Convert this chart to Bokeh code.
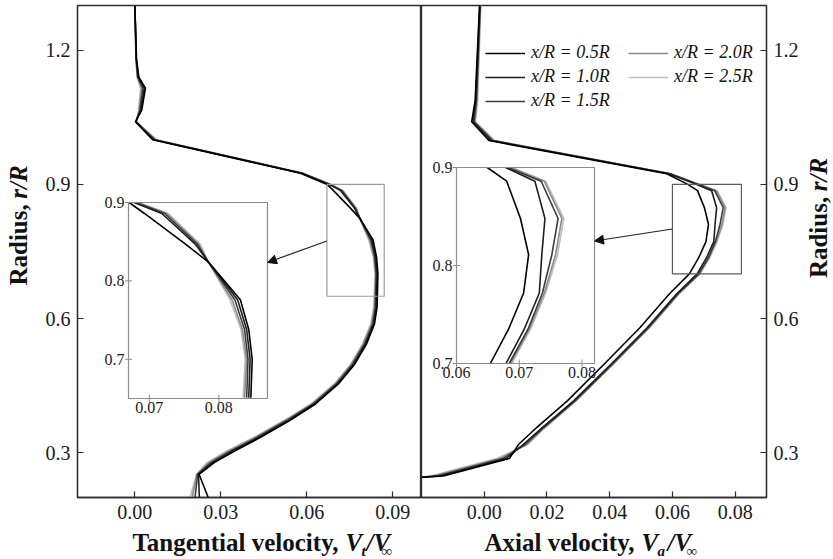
import numpy as np
from bokeh.plotting import figure
from bokeh.layouts import row, column
from bokeh.models import (Range1d, FixedTicker, NumeralTickFormatter,
                          Legend, LegendItem, Arrow, NormalHead)
from bokeh.core.properties import value
from bokeh.embed import file_html
from bokeh.resources import INLINE

# ---------------------------------------------------------------- data
stations = ["x/R = 0.5R", "x/R = 1.0R", "x/R = 1.5R", "x/R = 2.0R", "x/R = 2.5R"]

# tangential velocity Vt/Vinf against radius r/R
r_tan = [1.30, 1.18, 1.14, 1.115, 1.066, 1.04, 1.00, 0.925, 0.90, 0.886,
         0.847, 0.824, 0.776, 0.738, 0.70, 0.651, 0.625, 0.588, 0.543, 0.498,
         0.454, 0.409, 0.372, 0.334, 0.304, 0.278, 0.252, 0.20]
vt_05 = [0.0000, 0.0006, 0.0014, 0.0037, 0.0024, 0.0002, 0.0062, 0.0578, 0.0671, 0.0693,
         0.0752, 0.0785, 0.0831, 0.0843, 0.0848, 0.0846, 0.0845, 0.0836, 0.0808, 0.0767,
         0.0710, 0.0630, 0.0540, 0.0437, 0.0348, 0.0277, 0.0224, 0.0256]
vt_10 = [0.0000, 0.0005, 0.0012, 0.0033, 0.0021, 0.0003, 0.0066, 0.0581, 0.0678, 0.0718,
         0.0766, 0.0785, 0.0827, 0.0840, 0.0845, 0.0843, 0.0842, 0.0833, 0.0805, 0.0764,
         0.0707, 0.0627, 0.0535, 0.0432, 0.0342, 0.0271, 0.0222, 0.0225]
vt_15 = [0.0000, 0.0005, 0.0010, 0.0028, 0.0018, 0.0004, 0.0069, 0.0584, 0.0681, 0.0722,
         0.0769, 0.0785, 0.0823, 0.0837, 0.0842, 0.0840, 0.0839, 0.0830, 0.0801, 0.0760,
         0.0703, 0.0622, 0.0530, 0.0426, 0.0335, 0.0265, 0.0219, 0.0210]
vt_20 = [0.0000, 0.0004, 0.0009, 0.0024, 0.0015, 0.0005, 0.0072, 0.0586, 0.0683, 0.0725,
         0.0771, 0.0785, 0.0819, 0.0834, 0.0840, 0.0837, 0.0836, 0.0826, 0.0797, 0.0756,
         0.0699, 0.0618, 0.0525, 0.0420, 0.0328, 0.0258, 0.0217, 0.0200]
vt_25 = [0.0000, 0.0004, 0.0008, 0.0020, 0.0013, 0.0006, 0.0075, 0.0588, 0.0684, 0.0727,
         0.0773, 0.0785, 0.0816, 0.0832, 0.0838, 0.0835, 0.0833, 0.0823, 0.0794, 0.0753,
         0.0696, 0.0614, 0.0520, 0.0414, 0.0321, 0.0252, 0.0215, 0.0193]

# axial velocity Va/Vinf against radius r/R
r_ax = [1.30, 1.088, 1.04, 0.998, 0.924, 0.90, 0.886, 0.848, 0.811, 0.772,
        0.735, 0.70, 0.655, 0.58, 0.498, 0.416, 0.357, 0.319, 0.287, 0.248, 0.245]
va_05 = [-0.0015, -0.0029, -0.0040, 0.0015, 0.0582, 0.0649, 0.0680, 0.0702, 0.0715, 0.0707,
         0.0683, 0.0654, 0.0590, 0.0497, 0.0382, 0.0265, 0.0168, 0.0110, 0.0080, -0.0130, -0.0205]
va_10 = [-0.0014, -0.0027, -0.0036, 0.0022, 0.0589, 0.0678, 0.0725, 0.0741, 0.0736, 0.0732,
         0.0708, 0.0679, 0.0613, 0.0520, 0.0404, 0.0285, 0.0186, 0.0125, 0.0070, -0.0140, -0.0205]
va_15 = [-0.0013, -0.0025, -0.0033, 0.0026, 0.0592, 0.0682, 0.0735, 0.0762, 0.0752, 0.0737,
         0.0714, 0.0684, 0.0617, 0.0524, 0.0408, 0.0289, 0.0190, 0.0131, 0.0060, -0.0150, -0.0205]
va_20 = [-0.0012, -0.0023, -0.0030, 0.0030, 0.0594, 0.0685, 0.0740, 0.0768, 0.0758, 0.0740,
         0.0716, 0.0686, 0.0619, 0.0526, 0.0410, 0.0291, 0.0193, 0.0136, 0.0050, -0.0160, -0.0205]
va_25 = [-0.0011, -0.0021, -0.0028, 0.0033, 0.0596, 0.0688, 0.0742, 0.0771, 0.0761, 0.0742,
         0.0718, 0.0688, 0.0621, 0.0528, 0.0412, 0.0293, 0.0195, 0.0140, 0.0040, -0.0170, -0.0205]

r_ticks = [0.3, 0.6, 0.9, 1.2]
tan_ticks = [0.00, 0.03, 0.06, 0.09]
ax_ticks = [0.00, 0.02, 0.04, 0.06, 0.08]

# zoomed windows (x range, r range) and their tick values
tan_zoom_x, tan_zoom_r = (0.067, 0.087), (0.65, 0.90)
tan_zoom_xticks, tan_zoom_rticks = [0.07, 0.08], [0.7, 0.8, 0.9]
ax_zoom_x, ax_zoom_r = (0.06, 0.082), (0.70, 0.90)
ax_zoom_xticks, ax_zoom_rticks = [0.06, 0.07, 0.08], [0.7, 0.8, 0.9]

# ---------------------------------------------------------------- style / geometry
colors = ["#000000", "#1e1e1e", "#3c3c3c", "#8a8a8a", "#bdbdbd"]
FONT = "Liberation Serif"
AX = "#2b2b2b"
W_TOTAL, H_TOTAL = 833, 559
H_MAIN = 527                       # height of the panel row
TOP, BOTTOM = 5, 30                # frame margins inside a panel
Y_RANGE = (0.2, 1.3)
FRAME_H = H_MAIN - TOP - BOTTOM
STRIP_L, STRIP_R = 34, 32          # side strips carrying the rotated axis titles
L_LEFT, L_W = 77, 344              # left panel frame (absolute left edge, width)
R_LEFT, R_W, R_RIGHT = 421, 345, 67


def base_fig(width, xr, left, right, y_loc, xticks):
    p = figure(width=width, height=H_MAIN, x_range=Range1d(*xr), y_range=Range1d(*Y_RANGE),
               y_axis_location=y_loc, output_backend="svg", toolbar_location=None,
               min_border_left=left, min_border_right=right,
               min_border_top=TOP, min_border_bottom=BOTTOM)
    p.grid.visible = False
    p.outline_line_color = AX
    p.outline_line_width = 1.3
    p.outline_line_alpha = 1.0
    p.border_fill_color = "white"
    p.xaxis.ticker = FixedTicker(ticks=xticks)
    p.yaxis.ticker = FixedTicker(ticks=r_ticks)
    p.xaxis.formatter = NumeralTickFormatter(format="0.00")
    p.yaxis.formatter = NumeralTickFormatter(format="0.0")
    for ax in p.axis:
        ax.major_tick_in = 6
        ax.major_tick_out = 0
        ax.minor_tick_in = 0
        ax.minor_tick_out = 0
        ax.axis_line_color = AX
        ax.axis_line_width = 1.3
        ax.major_tick_line_color = AX
        ax.major_tick_line_width = 1.2
        ax.major_label_text_font = FONT
        ax.major_label_text_font_size = "20px"
        ax.major_label_text_color = "#1a1a1a"
        ax.major_label_standoff = 7
    return p


def strip(width, height):
    s = figure(width=width, height=height, x_range=Range1d(0, width), y_range=Range1d(0, height),
               output_backend="svg", toolbar_location=None,
               x_axis_location=None, y_axis_location=None, min_border=0)
    s.grid.visible = False
    s.outline_line_color = None
    s.border_fill_color = "white"
    return s


def put_text(s, ox, oy, height, pieces):
    """pieces: (text, X, Y, size, style, align, angle) in page pixels; Y is the text middle."""
    for text, X, Y, size, style, align, angle in pieces:
        s.text(x=[X - ox], y=[height - (Y - oy)], text=[text], angle=angle,
               text_font=value(FONT), text_font_size=size, text_font_style=style,
               text_align=align, text_baseline="middle", text_color="#111111")


def px_to_x(px, xr, frame_left, frame_w):
    return xr[0] + (px - frame_left) / frame_w * (xr[1] - xr[0])


def py_to_y(py):
    return Y_RANGE[1] - (py - TOP) / FRAME_H * (Y_RANGE[1] - Y_RANGE[0])


def add_inset(p, xr, frame_left, frame_w, box, zx, zr, r, series, xticks, rticks,
              frame_color, label_size):
    x0, x1, ytop, ybot = box
    sub = p.subplot(x_source=Range1d(*zx), y_source=Range1d(*zr),
                    x_target=Range1d(px_to_x(x0, xr, frame_left, frame_w),
                                     px_to_x(x1, xr, frame_left, frame_w)),
                    y_target=Range1d(py_to_y(ybot), py_to_y(ytop)))
    r = np.asarray(r)
    mask = (r >= zr[0] - 1e-9) & (r <= zr[1] + 1e-9)
    for i in reversed(range(len(series))):
        sub.line(np.asarray(series[i])[mask], r[mask], line_color=colors[i], line_width=1.6)
    sub.quad(left=[zx[0]], right=[zx[1]], bottom=[zr[0]], top=[zr[1]],
             fill_color=None, line_color=frame_color, line_width=1.2)
    sub.scatter(x=[zx[0]] * len(rticks), y=rticks, marker="dash", size=7,
                line_color=frame_color, line_width=1)
    sub.scatter(x=xticks, y=[zr[0]] * len(xticks), marker="dash", angle=np.pi / 2, size=8,
                line_color=frame_color, line_width=1)
    sub.text(x=[zx[0]] * len(rticks), y=rticks, text=[f"{t:.1f}" for t in rticks],
             text_align="right", text_baseline="middle", x_offset=-4,
             text_font=value(FONT), text_font_size=label_size, text_color="#222222")
    sub.text(x=xticks, y=[zr[0]] * len(xticks), text=[f"{t:.2f}" for t in xticks],
             text_align="center", text_baseline="top", y_offset=3,
             text_font=value(FONT), text_font_size=label_size, text_color="#222222")
    return sub


# ---------------------------------------------------------------- left panel: tangential
tan_xr = (-0.02, 0.10)
p1 = base_fig(L_LEFT - STRIP_L + L_W, tan_xr, L_LEFT - STRIP_L, 0, "left", tan_ticks)
vt = [vt_05, vt_10, vt_15, vt_20, vt_25]
for i in reversed(range(5)):
    p1.line(vt[i], r_tan, line_color=colors[i], line_width=1.6)

p1.quad(left=[tan_zoom_x[0]], right=[tan_zoom_x[1]], bottom=[tan_zoom_r[0]], top=[tan_zoom_r[1]],
        fill_color=None, line_color="#9a9a9a", line_width=1.2)
tan_box = (128, 267, 202, 398)
add_inset(p1, tan_xr, L_LEFT, L_W, tan_box, tan_zoom_x, tan_zoom_r, r_tan, vt,
          tan_zoom_xticks, tan_zoom_rticks, "#8c8c8c", "16px")
p1.add_layout(Arrow(end=NormalHead(size=9, fill_color="#111111", line_color="#111111", line_width=1),
                    x_start=tan_zoom_x[0], y_start=py_to_y(240.5),
                    x_end=px_to_x(tan_box[1], tan_xr, L_LEFT, L_W), y_end=py_to_y(262),
                    line_color="#222222", line_width=1.2))

# ---------------------------------------------------------------- right panel: axial
ax_xr = (-0.02, 0.09)
p2 = base_fig(R_W + R_RIGHT - STRIP_R, ax_xr, 0, R_RIGHT - STRIP_R, "right", ax_ticks)
va = [va_05, va_10, va_15, va_20, va_25]
ax_lines = [None] * 5
for i in reversed(range(5)):
    ax_lines[i] = p2.line(va[i], r_ax, line_color=colors[i], line_width=1.6)

p2.quad(left=[ax_zoom_x[0]], right=[ax_zoom_x[1]], bottom=[ax_zoom_r[0]], top=[ax_zoom_r[1]],
        fill_color=None, line_color="#5a5a5a", line_width=1.2)
ax_box = (456, 594, 167, 363)
add_inset(p2, ax_xr, R_LEFT, R_W, ax_box, ax_zoom_x, ax_zoom_r, r_ax, va,
          ax_zoom_xticks, ax_zoom_rticks, "#8c8c8c", "16px")
p2.add_layout(Arrow(end=NormalHead(size=9, fill_color="#111111", line_color="#111111", line_width=1),
                    x_start=ax_zoom_x[0], y_start=py_to_y(228.5),
                    x_end=px_to_x(ax_box[1], ax_xr, R_LEFT, R_W), y_end=py_to_y(240.5),
                    line_color="#222222", line_width=1.2))

legend_style = dict(orientation="vertical", glyph_width=40, glyph_height=20, label_height=20,
                    label_standoff=6, spacing=3, padding=0, margin=0, border_line_color=None,
                    background_fill_alpha=0, label_text_font=FONT, label_text_font_size="18px",
                    label_text_font_style="italic", label_text_color="#111111")
leg1 = Legend(items=[LegendItem(label=stations[i], renderers=[ax_lines[i]]) for i in range(3)],
              location=(485 - R_LEFT, 386), **legend_style)
leg2 = Legend(items=[LegendItem(label=stations[i], renderers=[ax_lines[i]]) for i in (3, 4)],
              location=(628 - R_LEFT, 410), **legend_style)
p2.add_layout(leg1)
p2.add_layout(leg2)

# ---------------------------------------------------------------- axis titles
B, I = "bold", "bold italic"
H_STRIP = H_TOTAL - H_MAIN
s_bottom = strip(W_TOTAL, H_STRIP)
put_text(s_bottom, 0, H_MAIN, H_STRIP, [
    ("Tangential velocity,", 338, 542, "25px", B, "right", 0),
    ("V", 345, 542, "25px", I, "left", 0),
    ("t", 361, 550, "15px", I, "left", 0),
    ("/V", 366, 542, "25px", I, "left", 0),
    ("\u221e", 381, 550, "15px", I, "left", 0),
    ("Axial velocity,", 634, 542, "25px", B, "right", 0),
    ("V", 641, 542, "25px", I, "left", 0),
    ("a", 657, 550, "15px", I, "left", 0),
    ("/V", 667, 542, "25px", I, "left", 0),
    ("\u221e", 686, 550, "15px", I, "left", 0),
])

s_left = strip(STRIP_L, H_MAIN)
put_text(s_left, 0, 0, H_MAIN, [
    ("Radius,", 18, 300, "25px", B, "left", np.pi / 2),
    ("r/R", 18, 207, "25px", I, "left", np.pi / 2),
])

s_right = strip(STRIP_R, H_MAIN)
put_text(s_right, W_TOTAL - STRIP_R, 0, H_MAIN, [
    ("Radius,", 818, 292, "25px", B, "left", np.pi / 2),
    ("r/R", 818, 199, "25px", I, "left", np.pi / 2),
])

layout = column(row(s_left, p1, p2, s_right), s_bottom)
open("out.html", "w").write(file_html(layout, INLINE))
